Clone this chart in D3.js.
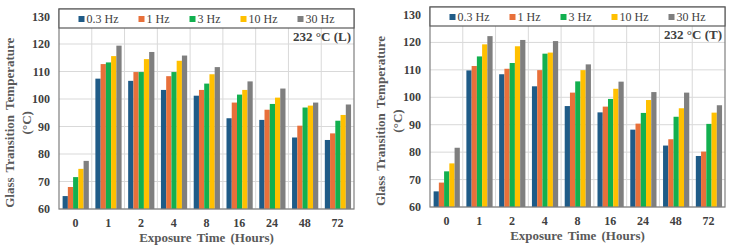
<!DOCTYPE html>
<html>
<head>
<meta charset="utf-8">
<script src="https://cdn.jsdelivr.net/npm/d3@7"></script>
<style>
  body { margin: 0; background: #fff; }
  svg { display: block; }
  text { font-family: "Liberation Serif", "Times New Roman", serif; }
</style>
</head>
<body>
<div id="chart"></div>
<script>
// Categories, series names and tick values
var categories = ["0", "1", "2", "4", "8", "16", "24", "48", "72"];
var seriesNames = ["0.3 Hz", "1 Hz", "3 Hz", "10 Hz", "30 Hz"];
var seriesColors = ["#1f5b87", "#e8703a", "#12b04f", "#ffc000", "#7f7f7f"];
var yTicks = [60, 70, 80, 90, 100, 110, 120, 130];

// 232 °C (L) values per frequency
var leftHz03 = [64.7, 107.4, 106.6, 103.3, 101.2, 93.0, 92.4, 86.0, 85.1];
var leftHz1  = [68.0, 112.7, 109.8, 108.3, 103.3, 98.7, 96.1, 90.3, 87.5];
var leftHz3  = [71.6, 113.3, 109.8, 109.8, 105.6, 101.6, 98.2, 96.9, 92.1];
var leftHz10 = [74.6, 115.6, 114.5, 113.9, 109.0, 103.3, 100.5, 97.6, 94.2];
var leftHz30 = [77.5, 119.4, 117.1, 115.8, 111.6, 106.4, 103.8, 98.7, 98.0];

// 232 °C (T) values per frequency
var rightHz03 = [65.7, 109.8, 108.4, 104.0, 96.8, 94.5, 88.2, 82.4, 78.6];
var rightHz1  = [68.9, 111.4, 110.4, 109.9, 101.7, 96.6, 90.4, 84.7, 80.2];
var rightHz3  = [73.0, 114.9, 112.5, 115.9, 105.8, 99.4, 94.3, 92.9, 90.3];
var rightHz10 = [75.9, 119.3, 118.6, 116.3, 109.9, 103.1, 99.0, 96.0, 94.4];
var rightHz30 = [81.6, 122.3, 120.9, 120.5, 112.0, 105.7, 101.9, 101.7, 97.1];

var svg = d3.select("#chart")
    .append("svg")
    .attr("width", 730)
    .attr("height", 250);

// Draw one panel
function drawPanel(opts) {
  var w = 295;
  var g = svg.append("g")
      .attr("transform", `translate(${opts.left}, 0)`);

  var y = d3.scaleLinear()
      .domain([60, 130])
      .range([opts.bottom, opts.top]);

  var x0 = d3.scaleBand()
      .domain(categories)
      .range([0, w]);

  var step = x0.bandwidth();
  var x1 = d3.scaleBand()
      .domain(seriesNames)
      .range([step * 0.11, step * 0.91]);

  // horizontal gridlines
  g.selectAll(".hgrid")
    .data(yTicks)
    .enter()
    .append("line")
    .attr("x1", 0)
    .attr("x2", w)
    .attr("y1", d => y(d))
    .attr("y2", d => y(d))
    .attr("stroke", "#d9d9d9")
    .attr("stroke-width", 1);

  // vertical gridlines between categories
  g.selectAll(".vgrid")
    .data(categories.slice(1))
    .enter()
    .append("line")
    .attr("x1", d => x0(d))
    .attr("x2", d => x0(d))
    .attr("y1", opts.legendBottom)
    .attr("y2", opts.bottom)
    .attr("stroke", "#d9d9d9")
    .attr("stroke-width", 1);

  // bars
  var series = opts.values;
  seriesNames.forEach(function (name, i) {
    g.selectAll(".bar" + i)
      .data(series[i])
      .enter()
      .append("rect")
      .attr("x", (d, j) => x0(categories[j]) + x1(name))
      .attr("y", d => y(d))
      .attr("width", x1.bandwidth())
      .attr("height", d => opts.bottom - y(d))
      .attr("fill", seriesColors[i]);
  });

  // frame
  g.append("rect")
    .attr("x", 0)
    .attr("y", opts.legendTop)
    .attr("width", w)
    .attr("height", opts.bottom - opts.legendTop)
    .attr("fill", "none")
    .attr("stroke", "#7f7f7f")
    .attr("stroke-width", 1.2);

  // legend box
  g.append("rect")
    .attr("x", 0)
    .attr("y", opts.legendTop)
    .attr("width", w)
    .attr("height", opts.legendBottom - opts.legendTop)
    .attr("fill", "#fff")
    .attr("stroke", "#595959")
    .attr("stroke-width", 1.2);

  var legend = g.append("g");
  var items = legend.selectAll("g")
    .data(seriesNames)
    .enter()
    .append("g");
  items.append("rect")
    .attr("width", 6)
    .attr("height", 6)
    .attr("y", -7)
    .attr("fill", (d, i) => seriesColors[i]);
  items.append("text")
    .attr("x", 8)
    .style("font-size", "12px")
    .style("fill", "#404040")
    .text(d => d);
  var gap = 20;
  var pos = 0;
  var offsets = [];
  items.each(function () {
    offsets.push(pos);
    pos += 8 + d3.select(this).select("text").node().getComputedTextLength() + gap;
  });
  var total = pos - gap;
  var startX = (w - total) / 2;
  items.attr("transform", (d, i) => `translate(${startX + offsets[i]}, ${opts.legendTop + 14})`);

  // y tick labels
  g.selectAll(".ytick")
    .data(yTicks)
    .enter()
    .append("text")
    .attr("x", -9)
    .attr("y", d => y(d) + 4)
    .style("text-anchor", "end")
    .style("font-size", "12px")
    .style("font-weight", "bold")
    .style("fill", "#404040")
    .text(d => d);

  // x tick labels
  g.selectAll(".xtick")
    .data(categories)
    .enter()
    .append("text")
    .attr("x", d => x0(d) + step / 2)
    .attr("y", opts.bottom + 18)
    .style("text-anchor", "middle")
    .style("font-size", "12px")
    .style("font-weight", "bold")
    .style("fill", "#404040")
    .text(d => d);

  // panel label
  g.append("text")
    .attr("x", w - 3)
    .attr("y", opts.legendBottom + 13)
    .style("text-anchor", "end")
    .style("font-size", "13px")
    .style("font-weight", "bold")
    .style("fill", "#404040")
    .text(opts.label);

  // axis titles
  g.append("text")
    .attr("x", w / 2)
    .attr("y", opts.bottom + 33)
    .style("text-anchor", "middle")
    .style("font-size", "13px")
    .style("font-weight", "bold")
    .style("word-spacing", "2px")
    .style("fill", "#595959")
    .text("Exposure Time (Hours)");

  var yMid = (opts.top + opts.bottom) / 2 + 10;
  g.append("text")
    .attr("transform", `translate(-45, ${yMid}) rotate(-90)`)
    .style("text-anchor", "middle")
    .style("font-size", "13px")
    .style("font-weight", "bold")
    .style("word-spacing", "2px")
    .style("fill", "#595959")
    .text("Glass Transition Temperature");
  g.append("text")
    .attr("transform", `translate(-28, ${yMid}) rotate(-90)`)
    .style("text-anchor", "middle")
    .style("font-size", "13px")
    .style("font-weight", "bold")
    .style("fill", "#595959")
    .text("(°C)");
}

drawPanel({
  left: 59, top: 16.5, bottom: 209, legendTop: 9, legendBottom: 28,
  label: "232 °C (L)",
  values: [leftHz03, leftHz1, leftHz3, leftHz10, leftHz30]
});

drawPanel({
  left: 430, top: 15, bottom: 207, legendTop: 7, legendBottom: 26,
  label: "232 °C (T)",
  values: [rightHz03, rightHz1, rightHz3, rightHz10, rightHz30]
});
</script>
</body>
</html>
